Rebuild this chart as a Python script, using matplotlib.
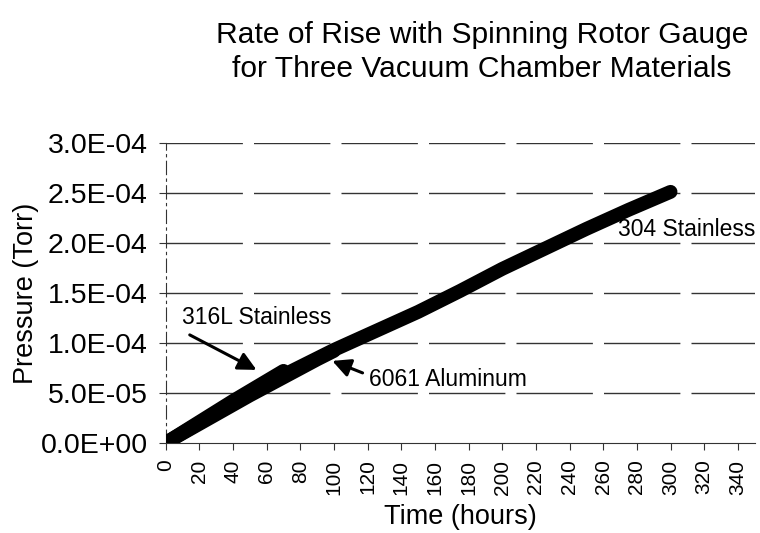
import numpy as np
import matplotlib
matplotlib.use('Agg')
from matplotlib import pyplot as plt

plt.rcParams['font.family'] = ['Liberation Sans', 'DejaVu Sans']

# readings (hours, Torr)
hours_316 = [0, 10, 20, 30, 40, 50, 60, 70]
p_316 = [0, 1.05e-5, 2.1e-5, 3.15e-5, 4.2e-5, 5.2e-5, 6.2e-5, 7.2e-5]

hours_6061 = [0, 10, 20, 30, 40, 50, 60, 70, 80, 90, 100]
p_6061 = [0, 0.95e-5, 1.9e-5, 2.85e-5, 3.8e-5, 4.75e-5, 5.65e-5, 6.55e-5, 7.45e-5, 8.35e-5, 9.2e-5]

hours_304 = [0, 25, 50, 75, 100, 125, 150, 175, 200, 225, 250, 275, 300]
p_304 = [0, 2.5e-5, 4.9e-5, 7.2e-5, 9.3e-5, 1.12e-4, 1.31e-4, 1.52e-4,
         1.74e-4, 1.94e-4, 2.14e-4, 2.33e-4, 2.51e-4]

x_ticks = list(range(0, 341, 20))
y_ticks = [0, 5e-5, 1e-4, 1.5e-4, 2e-4, 2.5e-4, 3e-4]
y_labels = ['0.0E+00', '5.0E-05', '1.0E-04', '1.5E-04', '2.0E-04', '2.5E-04', '3.0E-04']

fig = plt.figure(figsize=(7.6, 5.33), dpi=100)
ax = fig.add_axes([0.218, 0.169, 0.775, 0.563])

for y in y_ticks[1:]:
    ax.axhline(y, color='#333333', lw=1.0, ls=(0, (55, 8)), zorder=1)

ax.plot(hours_304, p_304, color='black', lw=10, solid_capstyle='round', zorder=3)
ax.plot(hours_6061, p_6061, color='black', lw=10, solid_capstyle='round', zorder=3)
ax.plot(hours_316, p_316, color='black', lw=10, solid_capstyle='round', zorder=3)

ax.set_xlim(0, 350)
ax.set_ylim(0, 3e-4)
ax.set_xticks(x_ticks)
ax.set_xticklabels([str(v) for v in x_ticks], rotation=90, fontsize=15)
ax.set_yticks(y_ticks)
ax.set_yticklabels(y_labels, fontsize=20.5)
ax.tick_params(axis='both', direction='out', length=5, color='#333333')
ax.tick_params(axis='y', pad=8)
ax.tick_params(axis='x', pad=7)

for s in ['top', 'right']:
    ax.spines[s].set_visible(False)
ax.spines['left'].set_linestyle((0, (12, 4, 2, 4)))
ax.spines['left'].set_color('#333333')
ax.spines['bottom'].set_color('#333333')

ax.set_xlabel('Time (hours)', fontsize=19.5, labelpad=7)
ax.set_ylabel('Pressure (Torr)', fontsize=19.5, labelpad=1)

arrow = dict(arrowstyle='-|>,head_length=1.1,head_width=0.55', color='black', lw=2.2,
             shrinkA=0, shrinkB=0)
ax.annotate('', xy=(54, 7.3e-5), xytext=(14.3, 1.08e-4), arrowprops=arrow)
ax.annotate('', xy=(99, 8.2e-5), xytext=(117, 7.0e-5), arrowprops=arrow)
ax.text(9.5, 1.25e-4, '316L Stainless', fontsize=16.5, va='center')
ax.text(121, 6.3e-5, '6061 Aluminum', fontsize=16.5, va='center')
ax.text(269, 2.13e-4, '304 Stainless', fontsize=16.5, va='center')

fig.text(0.634, 0.902, 'Rate of Rise with Spinning Rotor Gauge\nfor Three Vacuum Chamber Materials',
         ha='center', va='center', fontsize=21.6, linespacing=1.25)

fig.savefig('out.png', dpi=100)
